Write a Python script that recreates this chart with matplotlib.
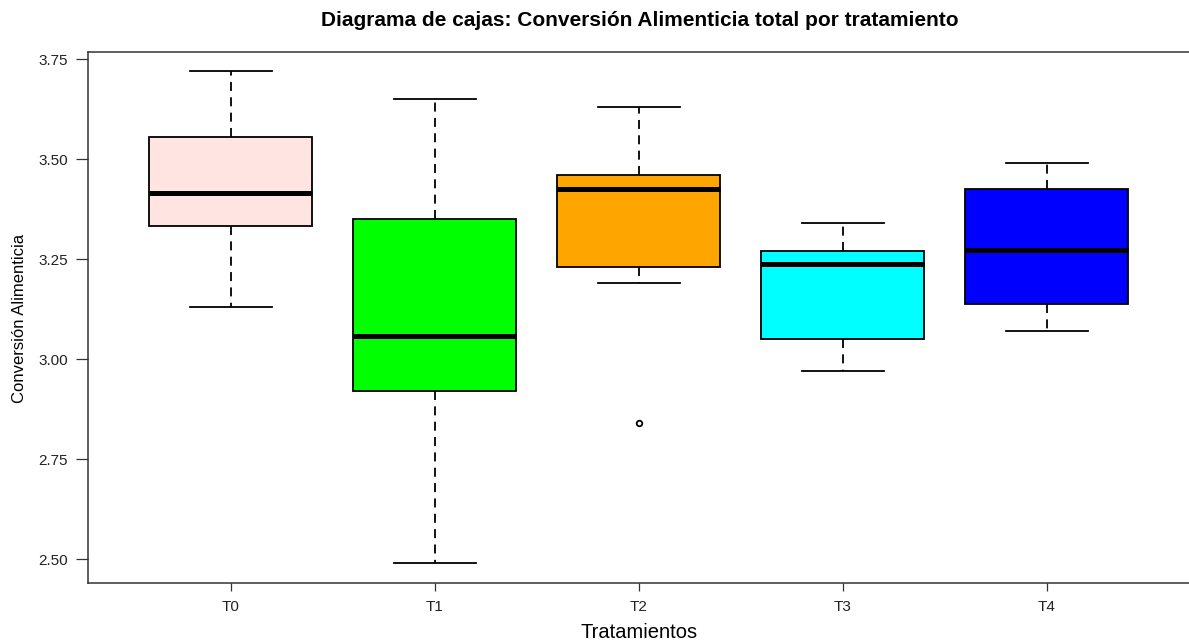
import matplotlib.pyplot as plt

plt.rcParams['font.family'] = ['Liberation Sans', 'DejaVu Sans']

# Resumen de cajas por tratamiento
tratamientos = ['T0', 'T1', 'T2', 'T3', 'T4']
bigote_inf = [3.13, 2.49, 3.19, 2.97, 3.07]
q1 = [3.333, 2.92, 3.23, 3.05, 3.137]
mediana = [3.415, 3.057, 3.425, 3.237, 3.272]
q3 = [3.555, 3.35, 3.46, 3.27, 3.425]
bigote_sup = [3.72, 3.65, 3.63, 3.34, 3.49]
atipicos = [[], [], [2.84], [], []]
colores = ['#FFE4E1', '#00FF00', '#FFA500', '#00FFFF', '#0000FF']

stats = []
for i, nombre in enumerate(tratamientos):
    stats.append({
        'label': nombre,
        'whislo': bigote_inf[i], 'q1': q1[i], 'med': mediana[i],
        'q3': q3[i], 'whishi': bigote_sup[i], 'fliers': atipicos[i],
    })

W, H = 1189, 642
fig = plt.figure(figsize=(W / 100, H / 100), dpi=100)
# el marco derecho queda justo fuera del lienzo
ax = fig.add_axes([88 / W, (H - 583) / H, (1192 - 88) / W, (583 - 51.5) / H])

bp = ax.bxp(
    stats, positions=range(1, 6), widths=0.8, patch_artist=True,
    boxprops=dict(linewidth=1.3, edgecolor='black'),
    medianprops=dict(color='black', linewidth=3.6, solid_capstyle='butt'),
    whiskerprops=dict(color='black', linewidth=1.3, linestyle=(0, (5, 3.5))),
    capprops=dict(color='black', linewidth=1.3),
    capwidths=0.4,
    flierprops=dict(marker='o', markersize=4, markerfacecolor='none',
                    markeredgecolor='black', markeredgewidth=1.3),
)
for caja, color in zip(bp['boxes'], colores):
    caja.set_facecolor(color)

ax.set_xlim(0.3, 0.3 + (1192 - 88) / 204)
ax.set_ylim(2.4408, 3.7692)
ax.set_yticks([2.50, 2.75, 3.00, 3.25, 3.50, 3.75])
ax.set_yticklabels(['2.50', '2.75', '3.00', '3.25', '3.50', '3.75'])
ax.set_xticks(range(1, 6))
ax.set_xticklabels(tratamientos)

for s in ax.spines.values():
    s.set_color('#333333')
    s.set_linewidth(1.1)
ax.tick_params(axis='both', width=0.9, color='#333333',
               labelsize=11, labelcolor='#222222')
ax.tick_params(axis='y', length=9, pad=5.5)
ax.tick_params(axis='x', length=6, pad=6)

fig.text((88 + 1191) / 2 / W, 1 - 633 / H, 'Tratamientos',
         ha='center', va='center', fontsize=14.5)
fig.text(20 / W, 1 - 318 / H, 'Conversión Alimenticia', rotation=90,
         ha='center', va='center', fontsize=12)
fig.text((88 + 1191) / 2 / W, 1 - 20 / H,
         'Diagrama de cajas: Conversión Alimenticia total por tratamiento',
         ha='center', va='center', fontsize=15, fontweight='bold')

fig.savefig('out.png', dpi=100)
